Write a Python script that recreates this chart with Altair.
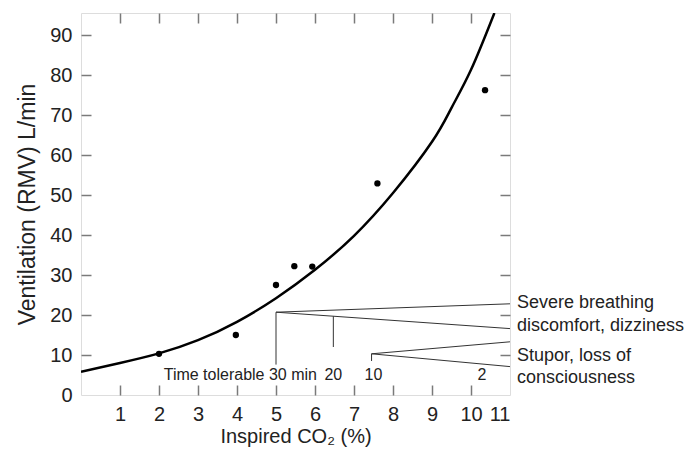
import altair as alt
import pandas as pd

# ---- data ----
curve_x = [0, 1, 2, 3, 4, 5, 6, 7, 8, 9, 9.5, 10, 10.6]
curve_y = [5.8, 8.0, 10.4, 13.7, 18.3, 24.2, 31.3, 39.8, 50.5, 63.3, 71.8, 81.3, 95.5]

pts_x = [2.0, 3.97, 5.0, 5.47, 5.93, 7.6, 10.36]
pts_y = [10.3, 15.0, 27.5, 32.2, 32.1, 52.9, 76.2]

x_label_values = [1, 2, 3, 4, 5, 6, 7, 8, 9, 10, 11]
y_label_values = [0, 10, 20, 30, 40, 50, 60, 70, 80, 90]
x_tick_values = [1, 2, 3, 4, 5, 6, 7, 8, 9, 10]
y_tick_values = [10, 20, 30, 40, 50, 60, 70, 80, 90]

# annotation segments (start x, start y, end x, end y)
seg_x1 = [5.0, 5.0, 5.0, 6.47, 7.45, 7.45, 7.45]
seg_y1 = [20.7, 20.7, 20.7, 19.7, 10.3, 10.3, 10.3]
seg_x2 = [5.0, 11.0, 11.0, 6.47, 7.45, 11.0, 11.0]
seg_y2 = [7.6, 22.8, 16.6, 12.0, 8.5, 13.3, 7.1]

time_texts = ["Time tolerable 30 min", "20", "10", "2"]
time_x = [6.05, 6.47, 7.5, 10.28]
time_y = [5.0, 5.0, 5.0, 5.0]
time_align = ["right", "center", "center", "center"]

effect_texts = ["Severe breathing", "discomfort, dizziness", "Stupor, loss of", "consciousness"]
effect_x = [11, 11, 11, 11]
effect_y = [23.0, 17.2, 9.8, 4.3]

W, H = 429, 382
FONT = "Liberation Sans"
GRAY = "#7a7a7a"

xs = alt.Scale(domain=[0, 11], nice=False, zero=False)
ys = alt.Scale(domain=[0, 95.5], nice=False, zero=False)

curve_df = pd.DataFrame({"x": curve_x, "y": curve_y})
pts_df = pd.DataFrame({"x": pts_x, "y": pts_y})
seg_df = pd.DataFrame({"x1": seg_x1, "y1": seg_y1, "x2": seg_x2, "y2": seg_y2})
time_df = pd.DataFrame({"t": time_texts, "x": time_x, "y": time_y, "a": time_align})
eff_df = pd.DataFrame({"t": effect_texts, "x": effect_x, "y": effect_y})

label_axis_x = alt.Axis(
    orient="bottom", values=x_label_values, ticks=False, tickSize=0, domain=False,
    grid=False, labelPadding=9, labelFontSize=20, labelFont=FONT, labelColor="#222",
    title="Inspired CO\u2082 (%)", titleFont=FONT, titleFontSize=20,
    titleFontWeight="normal", titleColor="#222", titlePadding=2,
)
label_axis_y = alt.Axis(
    orient="left", values=y_label_values, ticks=False, tickSize=0, domain=False,
    grid=False, labelPadding=9, labelFontSize=20, labelFont=FONT, labelColor="#222",
    title="Ventilation (RMV) L/min", titleFont=FONT, titleFontSize=23,
    titleFontWeight="normal", titleColor="#222", titlePadding=10,
)


def tick_axis(orient, values, offset):
    return alt.Axis(
        orient=orient, values=values, labels=False, ticks=True, tickSize=10,
        tickColor=GRAY, tickWidth=1.5, domain=False, grid=False, offset=offset,
        title=None,
    )


curve = alt.Chart(curve_df).mark_line(
    color="black", strokeWidth=2.5, interpolate="natural", clip=True
).encode(
    x=alt.X("x:Q", scale=xs, axis=label_axis_x),
    y=alt.Y("y:Q", scale=ys, axis=label_axis_y),
)

points = alt.Chart(pts_df).mark_circle(color="black", size=40, opacity=1).encode(
    x=alt.X("x:Q", scale=xs, axis=tick_axis("top", x_tick_values, -H)),
    y=alt.Y("y:Q", scale=ys, axis=tick_axis("right", y_tick_values, -W)),
)

segs = alt.Chart(seg_df).mark_rule(color="#333", strokeWidth=1).encode(
    x=alt.X("x1:Q", scale=xs, axis=tick_axis("bottom", x_tick_values, -H)),
    y=alt.Y("y1:Q", scale=ys, axis=tick_axis("left", y_tick_values, -W)),
    x2="x2:Q",
    y2="y2:Q",
)

time_layers = []
for a in ["right", "center"]:
    sub = time_df[time_df["a"] == a]
    time_layers.append(
        alt.Chart(sub).mark_text(
            align=a, baseline="middle", font=FONT, fontSize=16, color="#222"
        ).encode(
            x=alt.X("x:Q", scale=xs, axis=None),
            y=alt.Y("y:Q", scale=ys, axis=None),
            text="t:N",
        )
    )

effects = alt.Chart(eff_df).mark_text(
    align="left", baseline="middle", dx=7, font=FONT, fontSize=18, color="#222"
).encode(
    x=alt.X("x:Q", scale=xs, axis=None),
    y=alt.Y("y:Q", scale=ys, axis=None),
    text="t:N",
)

chart = alt.layer(curve, points, segs, *time_layers, effects).resolve_axis(
    x="independent", y="independent"
).properties(
    width=W, height=H,
    autosize=alt.AutoSizeParams(type="none"),
    padding={"left": 73, "top": 5, "right": 177, "bottom": 54},
).configure_view(
    stroke=GRAY, strokeWidth=1.5
).configure(background="white")

chart.save("out.html", embed_options={"renderer": "svg", "actions": False})
